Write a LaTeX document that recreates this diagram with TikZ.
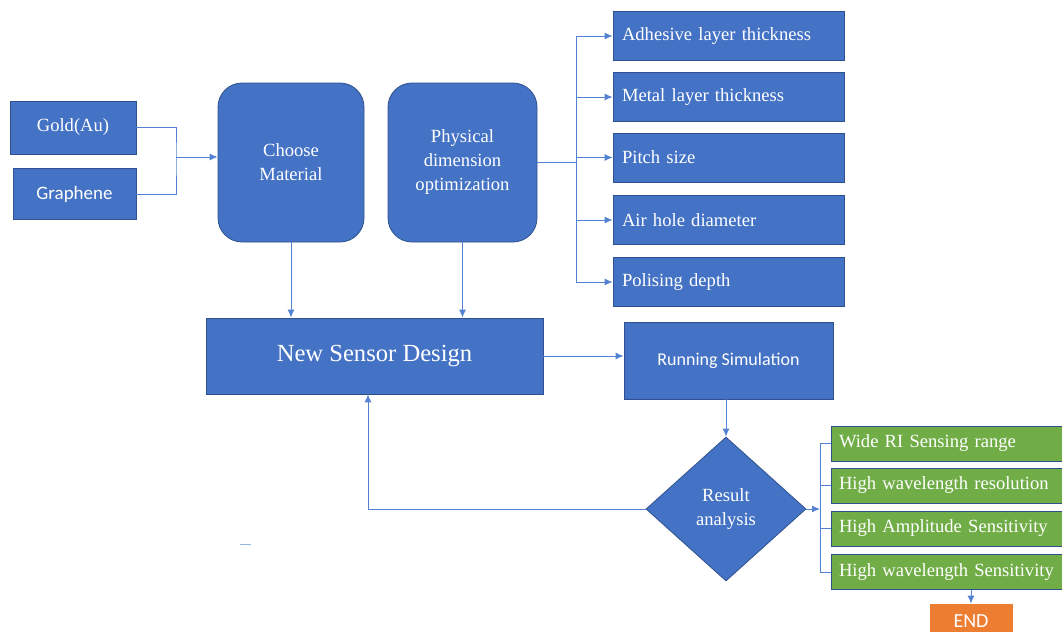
\documentclass[tikz,border=0pt]{standalone}
\usepackage{fontspec}
\usepackage{xcolor}
\usepackage{tikz}
\usetikzlibrary{arrows.meta,shapes.geometric}
\setmainfont{Liberation Serif}
\newfontfamily\calibri{Carlito}
\definecolor{flowblue}{RGB}{68, 114, 196}
\definecolor{flowedge}{RGB}{47, 82, 143}
\definecolor{flowgreen}{RGB}{112, 173, 71}
\definecolor{floworange}{RGB}{237, 125, 49}
\definecolor{flowline}{RGB}{84, 130, 210}
\tikzset{
  box/.style={draw=flowedge, fill=flowblue, text=white, inner sep=0pt, font=\fontsize{9.3}{12}\selectfont},
  roundbox/.style={box, rounded corners=12pt, minimum width=73pt, minimum height=79.5pt, align=center},
  parambox/.style={box, minimum height=24.5pt, text width=106.5pt, inner xsep=4.5pt, align=left},
  goalbox/.style={box, fill=flowgreen, minimum height=17.5pt, text width=108pt, inner xsep=4pt, align=left},
  link/.style={draw=flowline, line width=0.5pt},
  arrow/.style={link, -{Latex[length=4pt,width=3.5pt]}}
}
\begin{document}
\begin{tikzpicture}[x=0.5pt, y=-0.5pt]
\clip (0,0) rectangle (1062,632);
\fill[white] (0,0) rectangle (1062,632);

% materials
\node[box, minimum width=63pt, minimum height=26.5pt] (gold) at (73,127.5) {Gold(Au)};
\node[box, minimum width=61.5pt, minimum height=25.5pt, font=\calibri\fontsize{9.5}{11}\selectfont] (graphene) at (74.5,194) {Graphene};
\node[roundbox] (choose) at (291,162.5) {Choose\\Material};
\node[roundbox, minimum width=74.5pt] (phys) at (462.5,162.5) {Physical\\dimension\\optimization};

% parameters
\node[parambox] (adhesive) at (728.5,36) {Adhesive layer thickness};
\node[parambox] (metal) at (728.5,97) {Metal layer thickness};
\node[parambox] (pitch) at (728.5,157.5) {Pitch size};
\node[parambox] (air) at (728.5,220) {Air hole diameter};
\node[parambox] (polish) at (728.5,282) {Polising depth};

% design and simulation
\node[box, minimum width=168.5pt, minimum height=38pt, font=\fontsize{12.3}{15}\selectfont] (design) at (374.5,356) {New Sensor Design};
\node[box, minimum width=104.5pt, minimum height=38.5pt, font=\calibri\fontsize{9}{11}\selectfont] (simulation) at (728.5,360.5) {Running Simulation};
\node[box, diamond, aspect=1.11, minimum width=80pt, minimum height=72pt, align=center] (result) at (726,509) {Result\\analysis};

% outcomes
\node[goalbox] (range) at (947,443.5) {Wide RI Sensing range};
\node[goalbox] (resolution) at (947,485.5) {High wavelength resolution};
\node[goalbox] (amplitude) at (947,528.5) {High Amplitude Sensitivity};
\node[goalbox] (wlsens) at (947,572) {High wavelength Sensitivity};
\node[box, fill=floworange, draw=floworange, minimum width=41pt, minimum height=17pt, font=\calibri\fontsize{10}{12}\selectfont] (end) at (971,621) {END};

% joins
\coordinate (mjoin) at (176,157);
\coordinate (pjoin) at (576,162.5);
\coordinate (fb) at (368,509);
\coordinate (gjoin) at (820,509);

\draw[link] (gold.east) -| (mjoin) |- (graphene.east);
\draw[arrow] (mjoin) -- (mjoin -| choose.west);

\draw[link] (phys.east) -- (pjoin);
\draw[link] (adhesive.west -| pjoin) -- (polish.west -| pjoin);
\foreach \n in {adhesive,metal,pitch,air,polish}
  \draw[arrow] (\n.west -| pjoin) -- (\n.west);

\draw[arrow] (choose.south) -- (choose.south |- design.north);
\draw[arrow] (phys.south) -- (phys.south |- design.north);
\draw[arrow] (design.east) -- (design.east -| simulation.west);
\draw[arrow] (result.north |- simulation.south) -- (result.north);
\draw[arrow] (result.west) -- (fb) -- (fb |- design.south);

\draw[arrow] (result.east) -- (gjoin);
\draw[link] (range.west -| gjoin) -- (wlsens.west -| gjoin);
\foreach \n in {range,resolution,amplitude,wlsens}
  \draw[link] (\n.west -| gjoin) -- (\n.west);
\draw[arrow] (end.north |- wlsens.south) -- (end.north);

\draw[link, flowline!60] (240,544) -- (251,544);
\end{tikzpicture}
\end{document}
